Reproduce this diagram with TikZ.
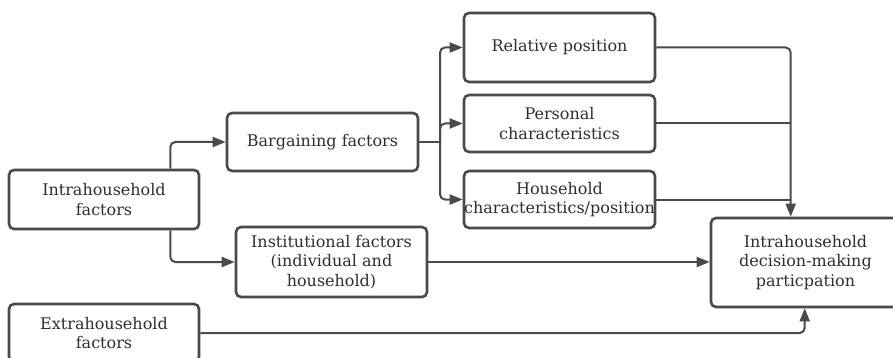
\documentclass[tikz,border=0pt]{standalone}
\usepackage{fontspec}
\setmainfont{DejaVu Serif}
\usetikzlibrary{arrows.meta}
\definecolor{ln}{HTML}{4A4A4A}
\definecolor{tx}{HTML}{2E2E2E}
\tikzset{
  box/.style={draw=ln, line width=2.6pt, rounded corners=5pt, fill=white, inner sep=0pt, align=center, text=tx, font=\fontsize{16}{19.5}\selectfont},
  conn/.style={draw=ln, line width=2pt, rounded corners=5pt, -{Triangle[length=13pt,width=10pt]}},
  plain/.style={draw=ln, line width=2pt, rounded corners=5pt}
}
\begin{document}
\begin{tikzpicture}[x=1pt,y=-1pt]
\useasboundingbox (0,0) rectangle (893,358);
\clip (0,0) rectangle (893,358);
\fill[white] (0,0) rectangle (893,358);
\node[box, minimum width=190pt, minimum height=59pt] (intra) at (104,199.5) {Intrahousehold\\factors};
\node[box, minimum width=190pt, minimum height=58pt] (extra) at (104,333) {Extrahousehold\\factors};
\node[box, minimum width=191pt, minimum height=58pt] (barg) at (322.5,142) {Bargaining factors};
\node[box, minimum width=191pt, minimum height=69pt] (rel) at (559.5,47.5) {Relative position};
\node[box, minimum width=191pt, minimum height=57pt] (pers) at (559.5,123.5) {Personal\\characteristics};
\node[box, minimum width=191pt, minimum height=57pt] (hh) at (559.5,199.5) {Household\\characteristics/position};
\node[box, minimum width=191pt, minimum height=70pt] (inst) at (331.5,262) {Institutional factors\\(individual and\\household)};
\node[box, minimum width=189pt, minimum height=89pt] (dec) at (805.5,262.5) {Intrahousehold\\decision-making\\particpation};
\coordinate (bj) at (440,142);
\coordinate (dtop) at ([xshift=81pt]dec.north west);
\coordinate (dbot) at ([xshift=95pt]dec.south west);
\draw[conn] ([xshift=-30pt]intra.north east) |- (barg.west);
\draw[conn] ([xshift=-30pt]intra.south east) |- (inst.west);
\draw[plain] (barg.east) -- (bj);
\draw[conn] (bj) |- (rel.west);
\draw[conn] (bj) |- (pers.west);
\draw[conn] (bj) |- (hh.west);
\draw[conn] (rel.east) -| (dtop);
\draw[plain] (pers.east) -- (pers.east -| dtop);
\draw[plain] (hh.east) -- (hh.east -| dtop);
\draw[conn] (inst.east) -- (inst.east -| dec.west);
\draw[conn] (extra.east) -| (dbot);
\end{tikzpicture}
\end{document}
